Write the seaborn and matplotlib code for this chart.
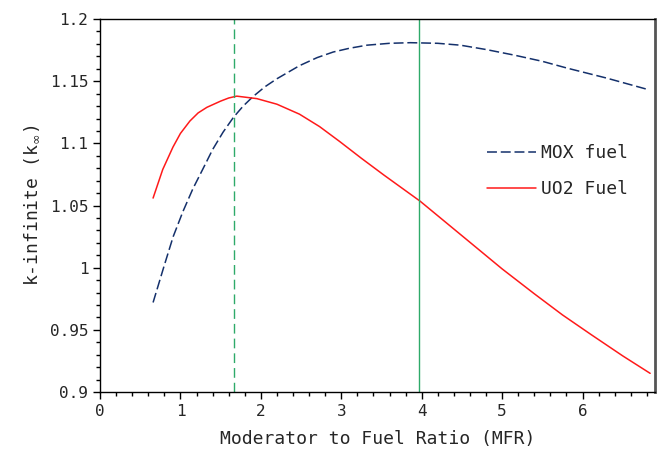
import matplotlib
matplotlib.use("Agg")
import matplotlib.pyplot as plt
from matplotlib.ticker import MultipleLocator
import pandas as pd
import seaborn as sns

# values
mox_mfr = [0.66, 0.80, 0.91, 1.03, 1.155, 1.28, 1.40, 1.53, 1.66, 1.78, 1.90, 2.05, 2.20,
           2.48, 2.70, 2.90, 3.10, 3.32, 3.60, 3.86, 4.20, 4.48, 4.80, 5.15, 5.50, 5.81,
           6.30, 6.83]
mox_k = [0.972, 1.002, 1.025, 1.045, 1.0635, 1.0795, 1.095, 1.109, 1.121, 1.130, 1.1375,
         1.1455, 1.152, 1.1625, 1.169, 1.1735, 1.1765, 1.179, 1.1805, 1.181, 1.1805, 1.179,
         1.1755, 1.171, 1.166, 1.1605, 1.1525, 1.143]

uo2_mfr = [0.66, 0.78, 0.907, 1.0, 1.118, 1.22, 1.329, 1.50, 1.60, 1.70, 1.95, 2.20, 2.48,
           2.73, 2.98, 3.25, 3.53, 3.98, 4.57, 5.00, 5.40, 5.75, 6.11, 6.50, 6.84]
uo2_k = [1.056, 1.079, 1.097, 1.108, 1.118, 1.1245, 1.129, 1.134, 1.1365, 1.138, 1.136,
         1.1315, 1.1235, 1.1135, 1.1015, 1.088, 1.0745, 1.0535, 1.022, 0.999, 0.979, 0.962,
         0.946, 0.929, 0.915]

opt_mox = 1.665
opt_uo2 = 3.97

df = pd.concat([
    pd.DataFrame({"MFR": mox_mfr, "k": mox_k, "fuel": "MOX fuel"}),
    pd.DataFrame({"MFR": uo2_mfr, "k": uo2_k, "fuel": "UO2 Fuel"}),
])

sns.set_style("white")
plt.rcParams['font.family'] = ['DejaVu Sans Mono', 'DejaVu Sans']

fig = plt.figure(figsize=(6.64, 4.54), dpi=100)
ax = fig.add_axes([0.1506, 0.1366, 0.8358, 0.8214])

sns.lineplot(data=df, x="MFR", y="k", hue="fuel", style="fuel",
             palette={"MOX fuel": "#14306b", "UO2 Fuel": "#ff1a1a"},
             dashes={"MOX fuel": (6.5, 2.5), "UO2 Fuel": ""},
             linewidth=1.1, ax=ax, sort=False)

ax.axvline(opt_mox, color="#2eaa6a", lw=1.0, ls=(0, (7, 3.6)))
ax.axvline(opt_uo2, color="#2eaa6a", lw=1.0)

ax.set_xlim(0, 6.9)
ax.set_ylim(0.9, 1.2)
ax.xaxis.set_major_locator(MultipleLocator(1))
ax.xaxis.set_minor_locator(MultipleLocator(0.2))
ax.yaxis.set_minor_locator(MultipleLocator(0.01))
ax.set_yticks([0.9, 0.95, 1.0, 1.05, 1.1, 1.15, 1.2])
ax.set_yticklabels(["0.9", "0.95", "1", "1.05", "1.1", "1.15", "1.2"])
ax.tick_params(which="major", direction="out", length=5, width=1, color="black",
               labelsize=11.5, bottom=True, left=True)
ax.tick_params(which="minor", direction="out", length=3, width=1, color="black",
               bottom=True, left=True)

for s in ["left", "bottom", "top"]:
    ax.spines[s].set_color("black")
    ax.spines[s].set_linewidth(1.0)
ax.spines["right"].set_color("#555555")
ax.spines["right"].set_linewidth(2.0)

ax.set_xlabel("Moderator to Fuel Ratio (MFR)", fontsize=13, labelpad=8)
ax.set_ylabel(r"k-infinite (k$_\infty$)", fontsize=13, labelpad=6)

ax.legend(title=None, frameon=False, fontsize=13, handlelength=2.7,
          handletextpad=0.3, labelspacing=1.0, borderpad=0, borderaxespad=0,
          loc="upper left", bbox_to_anchor=(0.697, 0.665))

fig.savefig("out.png", dpi=100)
